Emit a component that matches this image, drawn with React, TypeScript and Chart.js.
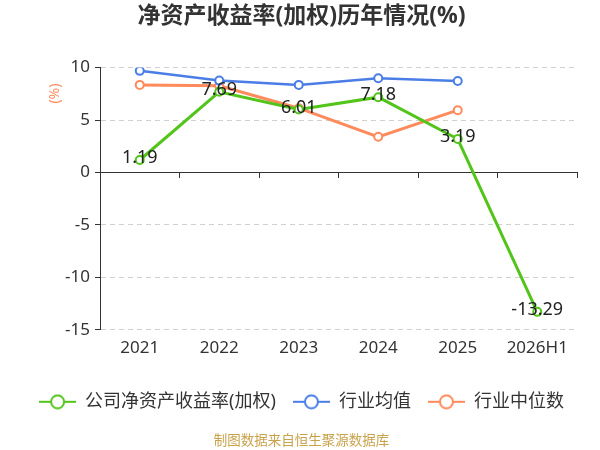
import { useEffect, useRef } from 'react';
import { Chart, registerables } from 'chart.js';

Chart.register(...registerables);

const FONT = "'Noto Sans', 'Noto Sans CJK SC', sans-serif";

const CATEGORIES = ['2021', '2022', '2023', '2024', '2025', '2026H1'];
const COMPANY_ROE = [1.19, 7.69, 6.01, 7.18, 3.19, -13.29];
const INDUSTRY_AVG = [9.69, 8.76, 8.35, 8.99, 8.73, null];
const INDUSTRY_MEDIAN = [8.35, 8.26, 6.13, 3.4, 5.94, null];
const SERIES_NAMES = ['公司净资产收益率(加权)', '行业均值', '行业中位数'];
const SERIES_COLORS = ['#52c41a', '#4a7ee6', '#ff8a5b'];
const Y_MIN = -15;
const Y_MAX = 10;
const Y_STEP = 5;

const TITLE = '净资产收益率(加权)历年情况(%)';
const FOOTER = '制图数据来自恒生聚源数据库';
const UNIT = '(%)';

// line + hollow circle marker used in the legend
function makeMarker(color: string) {
  const c = document.createElement('canvas');
  c.width = 37;
  c.height = 16;
  const g = c.getContext('2d');
  if (g) {
    g.strokeStyle = color;
    g.lineWidth = 2;
    g.beginPath();
    g.moveTo(0, 8);
    g.lineTo(37, 8);
    g.stroke();
    g.beginPath();
    g.arc(18.5, 8, 6.5, 0, Math.PI * 2);
    g.fillStyle = '#fff';
    g.fill();
    g.stroke();
  }
  return c;
}

const valueLabels = {
  id: 'valueLabels',
  afterDatasetsDraw(chart: any) {
    const { ctx } = chart;
    const meta = chart.getDatasetMeta(0);
    ctx.save();
    ctx.font = `18px ${FONT}`;
    ctx.fillStyle = '#222';
    ctx.textAlign = 'center';
    ctx.textBaseline = 'middle';
    meta.data.forEach((pt: any, i: number) => {
      ctx.fillText(COMPANY_ROE[i].toFixed(2), pt.x, pt.y - 2);
    });
    ctx.restore();
  },
};

const unitLabel = {
  id: 'unitLabel',
  afterDraw(chart: any) {
    const { ctx, chartArea } = chart;
    ctx.save();
    ctx.translate(chartArea.left - 45, chartArea.top + 26);
    ctx.rotate(-Math.PI / 2);
    ctx.font = `14px ${FONT}`;
    ctx.fillStyle = SERIES_COLORS[2];
    ctx.textAlign = 'center';
    ctx.textBaseline = 'middle';
    ctx.fillText(UNIT, 0, 0);
    ctx.restore();
  },
};

export default function App() {
  const canvasRef = useRef<HTMLCanvasElement>(null);

  useEffect(() => {
    document.body.style.margin = '0';
    if (!canvasRef.current) return;

    const markers = SERIES_COLORS.map(makeMarker);
    const seriesData = [COMPANY_ROE, INDUSTRY_AVG, INDUSTRY_MEDIAN];
    const widths = [3, 2.5, 3];

    const chart = new Chart(canvasRef.current, {
      type: 'line',
      data: {
        labels: CATEGORIES,
        datasets: seriesData.map((values, i) => ({
          label: SERIES_NAMES[i],
          data: values,
          xAxisID: 'x',
          yAxisID: 'y',
          borderColor: SERIES_COLORS[i],
          backgroundColor: SERIES_COLORS[i],
          borderWidth: widths[i],
          tension: 0,
          pointRadius: 4,
          pointHoverRadius: 4,
          pointBorderWidth: 2,
          pointBorderColor: SERIES_COLORS[i],
          pointBackgroundColor: '#fff',
          fill: false,
        })),
      },
      options: {
        animation: false,
        responsive: true,
        maintainAspectRatio: false,
        layout: { padding: { left: 3, right: 0, top: 0, bottom: 0 } },
        plugins: {
          title: {
            display: true,
            text: TITLE,
            color: '#333',
            font: { size: 23, weight: 'bold', family: FONT },
            padding: { top: 3, bottom: 37 },
          },
          subtitle: {
            display: true,
            position: 'bottom',
            text: FOOTER,
            color: '#c9a24c',
            font: { size: 13.5, family: FONT },
            padding: { top: 12, bottom: 1 },
          },
          legend: {
            position: 'bottom',
            labels: {
              usePointStyle: true,
              pointStyleWidth: 37,
              boxHeight: 16,
              padding: 17,
              color: '#333',
              font: { size: 18, family: FONT },
              generateLabels: (c: any) =>
                Chart.defaults.plugins.legend.labels
                  .generateLabels(c)
                  .map((item: any) => ({ ...item, pointStyle: markers[item.datasetIndex] })),
            },
          },
          tooltip: { enabled: false },
        },
        scales: {
          x: {
            type: 'category',
            position: 'bottom',
            offset: true,
            grid: { display: false, drawTicks: false },
            border: { display: false },
            ticks: { color: '#333', font: { size: 17, family: FONT }, padding: 8 },
            afterFit: (s: any) => {
              s.height = 46;
            },
          },
          x0: {
            type: 'category',
            axis: 'x',
            position: { y: 0 },
            offset: true,
            grid: {
              offset: true,
              drawOnChartArea: false,
              drawTicks: true,
              tickLength: 5,
              color: '#333',
              tickColor: '#333',
            },
            border: { display: true, color: '#333', width: 1 },
            ticks: { display: false },
          },
          y: {
            min: Y_MIN,
            max: Y_MAX,
            ticks: { stepSize: Y_STEP, color: '#333', font: { size: 17, family: FONT }, padding: 5 },
            grid: {
              color: (ctx: any) => (ctx.tick && ctx.tick.value === 0 ? 'rgba(0,0,0,0)' : '#d0d0d0'),
              tickColor: '#333',
              tickLength: 5,
              tickBorderDash: [],
            },
            border: { display: true, color: '#333', width: 1, dash: [5, 4] },
            afterFit: (s: any) => {
              s.width = 97;
            },
          },
          // empty right-hand axis that only reserves the right margin
          yRight: {
            axis: 'y',
            position: 'right',
            min: Y_MIN,
            max: Y_MAX,
            grid: { display: false, drawTicks: false },
            border: { display: false },
            ticks: { display: false },
            afterFit: (s: any) => {
              s.width = 23;
            },
          },
        },
      } as any,
      plugins: [valueLabels, unitLabel],
    });

    return () => {
      chart.destroy();
    };
  }, []);

  return (
    <div style={{ position: 'relative', width: 600, height: 450, background: '#fff' }}>
      <canvas ref={canvasRef} />
    </div>
  );
}
